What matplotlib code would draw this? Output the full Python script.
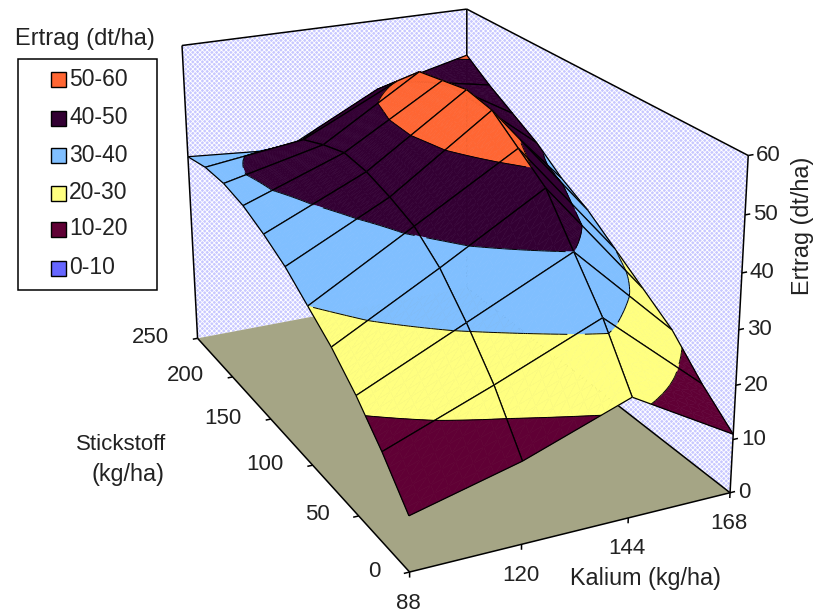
import numpy as np
import matplotlib
matplotlib.use('Agg')
import matplotlib.pyplot as plt
from matplotlib.patches import Rectangle
from mpl_toolkits.mplot3d import proj3d
from mpl_toolkits.mplot3d.art3d import Poly3DCollection, Line3DCollection

plt.rcParams['font.family'] = ['Liberation Sans', 'DejaVu Sans']
plt.rcParams['hatch.linewidth'] = 0.6

# Kalium (kg/ha) categories, Stickstoff (kg/ha) categories
kalium = ['88', '120', '144', '168']
stickstoff = [0, 25, 50, 75, 100, 125, 150, 175, 200, 225, 250]

# Ertrag (dt/ha), one row per Kalium value
ertrag_88 = [10, 16.5, 22, 26.5, 30, 33.5, 36, 38, 39, 39, 38]
ertrag_120 = [15, 24, 31, 37, 41, 43, 44.5, 45, 43.5, 41.5, 36.5]
ertrag_144 = [22, 32, 40, 48, 52, 56, 57, 56, 55, 50.5, 46]
ertrag_168 = [11, 16, 22, 26, 30, 34, 37, 41, 44, 47, 50.5]

band_labels = ['50-60', '40-50', '30-40', '20-30', '10-20', '0-10']
band_colors = ['#FF6633', '#330033', '#80BFFF', '#FFFF80', '#600035', '#6666FF']
band_edges = [60, 50, 40, 30, 20, 10, 0]
z_ticks = [0, 10, 20, 30, 40, 50, 60]

W, H = 819, 614
# viewing angles and scale fitted to the walls of the original
elev, azim, roll = 21.698, -115.451, 0.275
focal = 0.5277
aspect = (0.9913, 1.6749, 1.0)
scale, tx, ty = 3870.71, 441.57, 257.31

fig = plt.figure(figsize=(W / 100, H / 100), dpi=100)
ax = fig.add_subplot(projection='3d')
ax.set_xlim(0, 3, view_margin=0)
ax.set_ylim(0, 10, view_margin=0)
ax.set_zlim(0, 60, view_margin=0)
ax.view_init(elev, azim, roll)
ax.set_proj_type('persp', focal_length=focal)
ax.set_box_aspect(aspect)
ax.set_axis_off()
ax.computed_zorder = False
x0, x1 = ax.viewLim.intervalx
y0, y1 = ax.viewLim.intervaly
side = scale * (x1 - x0)
ax.set_position([(tx + scale * x0) / W, (H - ty + scale * y0) / H, side / W, side / H])

grid = np.array([ertrag_88, ertrag_120, ertrag_144, ertrag_168], float)
nx, ny = grid.shape


def clip(poly, level, keep_above):
    out = []
    for a, b in zip(poly, np.roll(poly, -1, axis=0)):
        ina = a[2] >= level if keep_above else a[2] <= level
        inb = b[2] >= level if keep_above else b[2] <= level
        if ina:
            out.append(a)
        if ina != inb:
            out.append(a + (level - a[2]) / (b[2] - a[2]) * (b - a))
    return np.array(out) if out else np.empty((0, 3))


def level_segment(tri, level):
    pts = []
    for a, b in zip(tri, np.roll(tri, -1, axis=0)):
        if (a[2] - level) * (b[2] - level) < 0:
            pts.append(a + (level - a[2]) / (b[2] - a[2]) * (b - a))
    return pts if len(pts) == 2 else None


def cell_artists(i, j, zo, sub=8):
    u = np.linspace(0, 1, sub + 1)
    zz = np.array([[(1 - a) * (1 - b) * grid[i, j] + a * (1 - b) * grid[i + 1, j]
                    + (1 - a) * b * grid[i, j + 1] + a * b * grid[i + 1, j + 1]
                    for b in u] for a in u])
    polys, colors, segs = [], [], []
    for p in range(sub):
        for q in range(sub):
            c = [np.array([i + u[p + s], j + u[q + t], zz[p + s, q + t]])
                 for s, t in ((0, 0), (1, 0), (1, 1), (0, 1))]
            for tri in (np.array([c[0], c[1], c[2]]), np.array([c[0], c[2], c[3]])):
                for k, col in enumerate(band_colors):
                    piece = clip(clip(tri, band_edges[k + 1], True), band_edges[k], False)
                    if len(piece) >= 3:
                        polys.append(piece)
                        colors.append(col)
                for lev in band_edges[1:-1]:
                    seg = level_segment(tri, lev)
                    if seg:
                        segs.append(seg)
    ax.add_collection3d(Poly3DCollection(polys, facecolors=colors, edgecolors=colors,
                                         linewidths=0.4, zorder=zo), autolim=False)
    border = [[(i + s, j + t, zz[s * sub, t * sub]) for s, t in pair]
              for pair in (((0, 0), (1, 0)), ((1, 0), (1, 1)), ((1, 1), (0, 1)), ((0, 1), (0, 0)))]
    if segs:
        ax.add_collection3d(Line3DCollection(segs, colors='k', linewidths=0.7, zorder=zo + 0.1),
                            autolim=False)
    ax.add_collection3d(Line3DCollection(border, colors='k', linewidths=0.9, zorder=zo + 0.2),
                        autolim=False)


# walls and floor
xm, ym, zm = nx - 1, ny - 1, z_ticks[-1]
walls = [[(0, ym, 0), (xm, ym, 0), (xm, ym, zm), (0, ym, zm)],
         [(xm, 0, 0), (xm, ym, 0), (xm, ym, zm), (xm, 0, zm)]]
ax.add_collection3d(Poly3DCollection(walls, facecolors='#C8C8FF', edgecolors='white',
                                     hatch='xxxxxxx', linewidths=0, zorder=1), autolim=False)
ax.add_collection3d(Poly3DCollection([[(0, 0, 0), (xm, 0, 0), (xm, ym, 0), (0, ym, 0)]],
                                     facecolors='#A5A585', edgecolors='none', zorder=2),
                    autolim=False)
frame = [[(0, ym, 0), (0, ym, zm)], [(0, ym, zm), (xm, ym, zm)], [(xm, ym, zm), (xm, 0, zm)],
         [(xm, 0, zm), (xm, 0, 0)], [(xm, ym, zm), (xm, ym, 0)],
         [(0, 0, 0), (xm, 0, 0)], [(0, 0, 0), (0, ym, 0)], [(xm, 0, 0), (xm, ym, 0)]]
ax.add_collection3d(Line3DCollection(frame, colors='k', linewidths=1.1, zorder=3), autolim=False)

# surface, back cells first
zo = 10
for i in range(nx - 2, -1, -1):
    for j in range(ny - 2, -1, -1):
        cell_artists(i, j, zo)
        zo += 1


def fx(px):
    return px / W


def fy(py):
    return 1 - py / H


def to_pixels(x, y, z):
    vx, vy, _ = proj3d.proj_transform(x, y, z, ax.get_proj())
    return scale * vx + tx, -scale * vy + ty


def tick_label(x, y, z, label, du, dv, ha):
    u, v = to_pixels(x, y, z)
    fig.text(fx(u + du), fy(v + dv), label, ha=ha, va='center', fontsize=16, color='#222222')


# ticks and tick labels
ticks = []
for i, lab in enumerate(kalium):
    ticks.append([(i, 0, 0), (i, 0, -1.0)])
    tick_label(i, 0, 0, lab, -1, 31, 'center')
for j, val in enumerate(stickstoff):
    if val % 50 == 0:
        ticks.append([(0, j, 0), (-0.05, j, 0)])
        tick_label(0, j, 0, str(val), -29, -1, 'right')
for z in z_ticks:
    ticks.append([(xm, 0, z), (xm + 0.05, 0, z)])
    tick_label(xm, 0, z, str(z), 8, 0, 'left')
ax.add_collection3d(Line3DCollection(ticks, colors='k', linewidths=1.1, zorder=4), autolim=False)

# axis titles
fig.text(fx(645), fy(578), 'Kalium (kg/ha)', ha='center', va='center', fontsize=16.8, color='#222222')
fig.text(fx(121), fy(445), 'Stickstoff', ha='center', va='center', fontsize=16, color='#222222')
fig.text(fx(128), fy(475), '(kg/ha)', ha='center', va='center', fontsize=16.8, color='#222222')
fig.text(fx(803), fy(226), 'Ertrag (dt/ha)', ha='center', va='center', rotation=90, fontsize=16.8,
         color='#222222')

# legend
fig.text(fx(85), fy(39), 'Ertrag (dt/ha)', ha='center', va='center', fontsize=17, color='#222222')
fig.add_artist(Rectangle((fx(17.5), fy(290)), 139.5 / W, 231 / H, transform=fig.transFigure,
                         facecolor='white', edgecolor='k', linewidth=1.1))
legend_rows = [79, 118, 155, 193, 229, 268]
for row, lab, col in zip(legend_rows, band_labels, band_colors):
    fig.add_artist(Rectangle((fx(50.5), fy(row + 7.5)), 15 / W, 15 / H, transform=fig.transFigure,
                             facecolor=col, edgecolor='k', linewidth=1.0))
    fig.text(fx(69), fy(row), lab, ha='left', va='center', fontsize=16.5, color='#222222')

fig.savefig('out.png', dpi=100)
